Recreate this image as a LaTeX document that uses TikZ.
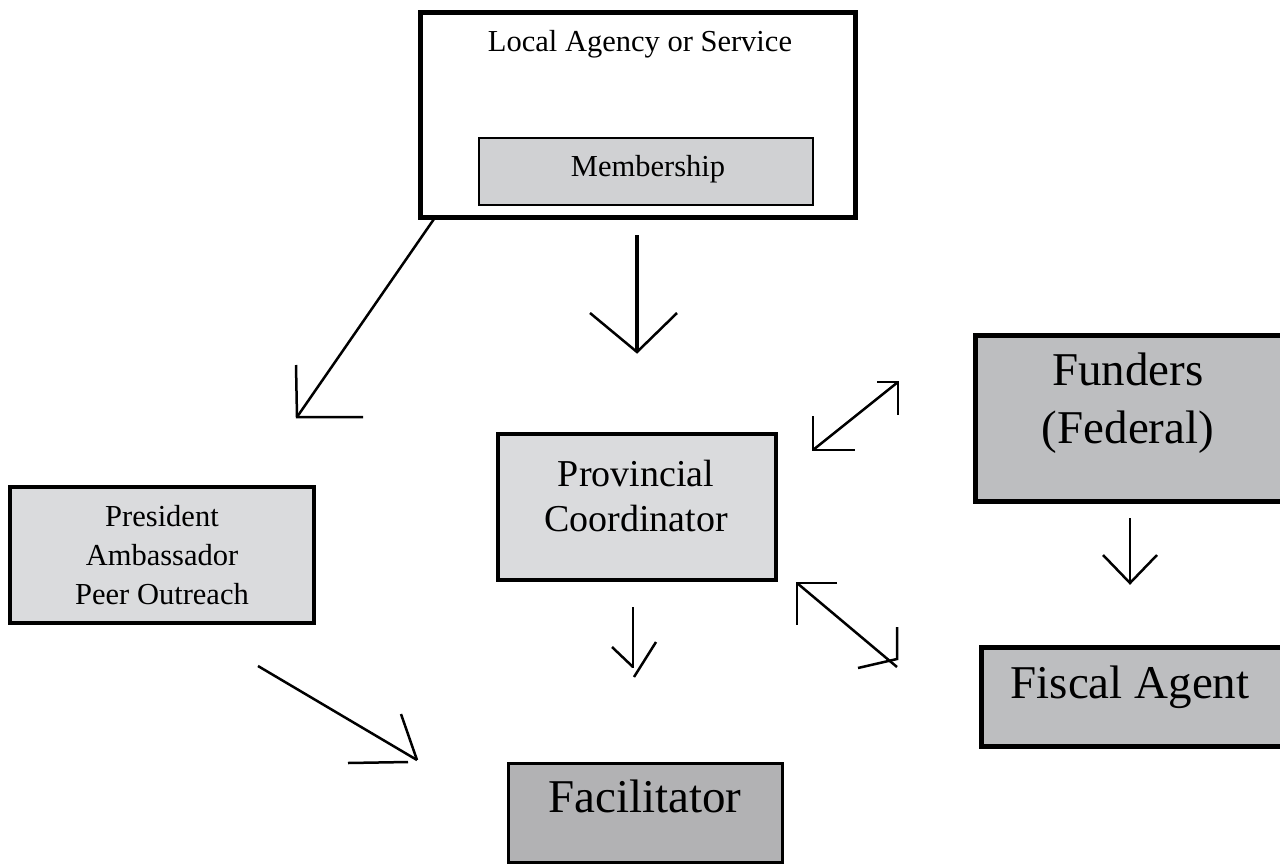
\documentclass[tikz,border=0pt]{standalone}
\usepackage{fontspec}
\setmainfont{Liberation Serif}
\begin{document}
\begin{tikzpicture}[x=1pt,y=-1pt,line join=miter,
  box/.style={draw=black,rectangle,inner sep=0pt},
  lbl/.style={inner sep=0pt,align=center,anchor=base},
  smallfont/.style={font=\fontsize{30.5}{39}\selectfont},
  midfont/.style={font=\fontsize{38}{45}\selectfont},
  bigfont/.style={font=\fontsize{47}{58}\selectfont},
  shaft/.style={line width=2.5pt},
  barb/.style={line width=2.5pt}]
\definecolor{memfill}{HTML}{D0D1D3}
\definecolor{lightfill}{HTML}{DADBDD}
\definecolor{darkfill}{HTML}{BDBEC0}
\definecolor{facfill}{HTML}{B2B2B4}
\useasboundingbox (0,0) rectangle (1280,865);
\clip (0,0) rectangle (1280,865);

% boxes
\node[box,line width=5pt,minimum width=435pt,minimum height=205pt] (local) at (637.5,114.5) {};
\node[box,fill=memfill,line width=2pt,minimum width=334pt,minimum height=67pt] (member) at (646,171.5) {};
\node[box,fill=lightfill,line width=4.5pt,minimum width=278pt,minimum height=146pt] (prov) at (637,507) {};
\node[box,fill=lightfill,line width=4.5pt,minimum width=304pt,minimum height=136pt] (pres) at (162,555) {};
\node[box,fill=darkfill,line width=5pt,minimum width=325pt,minimum height=166pt] (fund) at (1137.5,418) {};
\node[box,fill=darkfill,line width=5pt,minimum width=319pt,minimum height=99pt] (fisc) at (1140.5,696.5) {};
\node[box,fill=facfill,line width=3pt,minimum width=274pt,minimum height=99pt] (faci) at (645,812.5) {};

% texts (base anchor = baseline of the last line)
\node[lbl,smallfont] (localtxt) at (640,51) {Local Agency or Service};
\node[lbl,smallfont] (membertxt) at (648,176) {Membership};
\node[lbl,midfont] (provtxt) at (636,531) {Provincial\\Coordinator};
\node[lbl,smallfont] (prestxt) at (162,604) {President\\Ambassador\\Peer Outreach};
\node[lbl,bigfont] (fundtxt) at (1128,443) {Funders\\(Federal)};
\node[lbl,bigfont] (fisctxt) at (1130,698) {Fiscal Agent};
\node[lbl,bigfont] (facitxt) at (645,812) {Facilitator};

% arrow 1: local -> provincial (thick)
\coordinate (a1s) at (637,235); \coordinate (a1t) at (637,352);
\coordinate (a1l) at (590,313); \coordinate (a1r) at (677,313);
\draw[line width=4.5pt] (a1s) -- (a1t);
\draw[barb] (a1l) -- (a1t) -- (a1r);

% arrow 2: local -> president (diagonal)
\coordinate (a2s) at (434,219); \coordinate (a2t) at (297,417);
\coordinate (a2u) at (296,365); \coordinate (a2r) at (363,417);
\draw[shaft] (a2s) -- (a2t);
\draw[barb] (a2u) -- (a2t) -- (a2r);

% arrow 3: provincial <-> funders
\coordinate (a3a) at (813,450); \coordinate (a3b) at (898,382);
\coordinate (a3au) at (813,416); \coordinate (a3ar) at (855,450);
\coordinate (a3bl) at (877,382); \coordinate (a3bd) at (898,415);
\draw[shaft] (a3a) -- (a3b);
\draw[barb] (a3au) -- (a3a) -- (a3ar);
\draw[barb] (a3bl) -- (a3b) -- (a3bd);

% arrow 4: provincial <-> fiscal agent
\coordinate (a4a) at (797,583); \coordinate (a4b) at (897,667);
\coordinate (a4ar) at (837,583); \coordinate (a4ad) at (797,625);
\coordinate (a4bu) at (897,627); \coordinate (a4bc) at (897,659); \coordinate (a4bl) at (858,668);
\draw[shaft] (a4a) -- (a4b);
\draw[barb] (a4ar) -- (a4a) -- (a4ad);
\draw[barb] (a4bu) -- (a4bc) -- (a4bl);

% arrow 5: provincial -> facilitator
\coordinate (a5s) at (633,607); \coordinate (a5e) at (633,668);
\coordinate (a5l) at (612,647); \coordinate (a5lt) at (633,667);
\coordinate (a5r) at (656,642); \coordinate (a5t) at (634,677);
\draw[shaft] (a5s) -- (a5e);
\draw[barb] (a5l) -- (a5lt);
\draw[barb] (a5r) -- (a5t);

% arrow 6: funders -> fiscal agent
\coordinate (a6s) at (1130,518); \coordinate (a6t) at (1130,583);
\coordinate (a6l) at (1103,555); \coordinate (a6r) at (1157,555);
\draw[shaft] (a6s) -- (a6t);
\draw[barb] (a6l) -- (a6t) -- (a6r);

% arrow 7: president -> facilitator
\coordinate (a7s) at (258,666); \coordinate (a7t) at (417,760);
\coordinate (a7u) at (401,714); \coordinate (a7h1) at (348,763); \coordinate (a7h2) at (408,762);
\draw[shaft] (a7s) -- (a7t);
\draw[barb] (a7u) -- (a7t);
\draw[barb] (a7h1) -- (a7h2);
\end{tikzpicture}
\end{document}
